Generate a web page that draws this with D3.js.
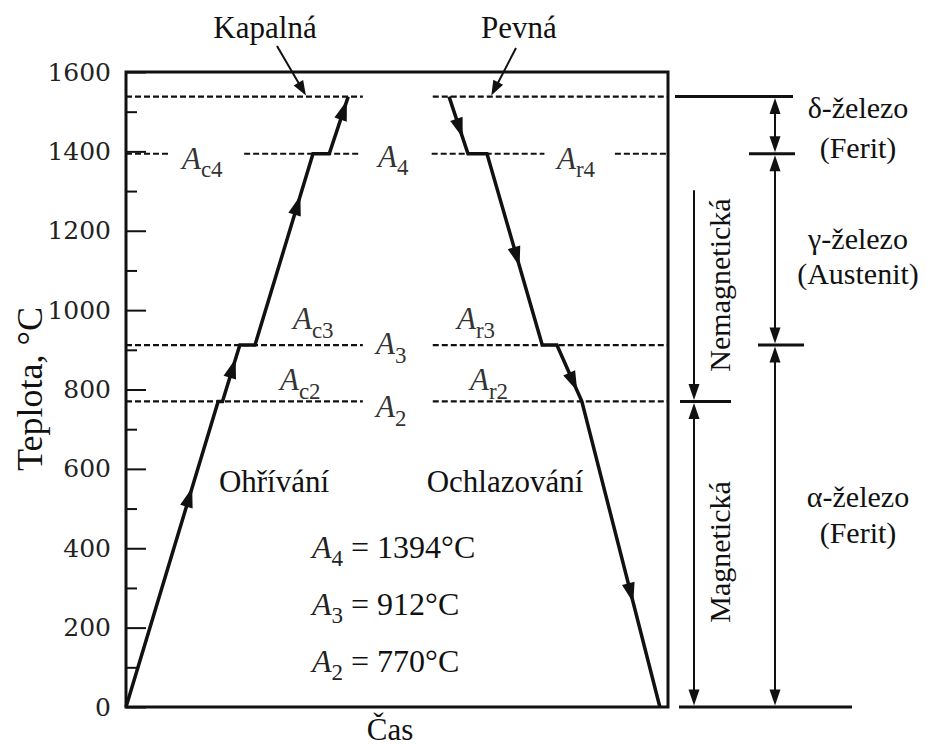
<!DOCTYPE html>
<html>
<head>
<meta charset="utf-8">
<script src="https://cdn.jsdelivr.net/npm/d3@7/dist/d3.min.js"></script>
<style>
  html, body { margin: 0; padding: 0; background: #fff; }
  svg { display: block; }
</style>
</head>
<body>
<svg id="chart" width="927" height="747"></svg>
<script>
// Temperature axis
const majorTicks = [0, 200, 400, 600, 800, 1000, 1200, 1400, 1600];
const minorTicks = [100, 300, 500, 700, 900, 1100, 1300, 1500];

// Critical temperatures of pure iron (°C)
const transitionNames = ["A2", "A3", "A4"];
const transitionTemps = [770, 912, 1394];
const meltingTemp = 1538;

// Heating curve: time (arbitrary units) and temperature
const heatingTime = [0, 17.0, 17.8, 21.0, 23.8, 34.5, 37.5, 41.0];
const heatingTemp = [0, 770, 770, 912, 912, 1394, 1394, 1538];
// Cooling curve
const coolingTime = [59.6, 63.1, 66.6, 76.8, 79.5, 84.1, 98.5];
const coolingTemp = [1538, 1394, 1394, 912, 912, 770, 0];

// Temperatures at which direction arrows sit on each curve
const heatingArrowTemps = [529, 854, 1265, 1504];
const coolingArrowTemps = [1458, 1134, 819, 287];

// Phase ranges (°C)
const phaseNames = ["δ-železo", "γ-železo", "α-železo"];
const phaseSubs = ["(Ferit)", "(Austenit)", "(Ferit)"];
const phaseLow = [1394, 912, 0];
const phaseHigh = [1538, 1394, 912];

// Magnetic state ranges (°C)
const magNames = ["Nemagnetická", "Magnetická"];
const magLow = [770, 0];
const magHigh = [1302, 770];

const SERIF = "'Liberation Serif', 'Times New Roman', serif";
const TICKFONT = "'DejaVu Serif', serif";

const svg = d3.select("#chart");
const x = d3.scaleLinear().domain([0, 100]).range([126, 668]);
const y = d3.scaleLinear().domain([0, 1600]).range([707, 72]);

function txt(px, py, size) {
  return svg.append("text").attr("x", px).attr("y", py)
    .style("font-family", SERIF).style("font-size", size + "px").attr("fill", "#111");
}

// ---- frame ----
svg.append("rect")
  .attr("x", x(0)).attr("y", y(1600))
  .attr("width", x(100) - x(0)).attr("height", y(0) - y(1600))
  .attr("fill", "none").attr("stroke", "#111").attr("stroke-width", 3);

// ---- temperature axis (ticks point into the plot) ----
const axisMajor = d3.axisLeft(y).tickValues(majorTicks).tickSize(-20)
  .tickSizeOuter(0).tickPadding(15).tickFormat(d3.format("d"));
const gMajor = svg.append("g").attr("transform", `translate(${x(0)},0)`).call(axisMajor);
gMajor.select(".domain").remove();
gMajor.selectAll(".tick line").attr("stroke", "#111").attr("stroke-width", 2);
gMajor.selectAll(".tick text").attr("fill", "#222")
  .style("font-family", TICKFONT).style("font-size", "25px");

const axisMinor = d3.axisLeft(y).tickValues(minorTicks).tickSize(-11)
  .tickSizeOuter(0).tickFormat("");
const gMinor = svg.append("g").attr("transform", `translate(${x(0)},0)`).call(axisMinor);
gMinor.select(".domain").remove();
gMinor.selectAll(".tick line").attr("stroke", "#111").attr("stroke-width", 2);

// axis titles
txt(0, 0, 36)
  .attr("transform", `translate(42,389) rotate(-90)`)
  .attr("text-anchor", "middle")
  .text("Teplota, °C");
txt(390, 740, 31).attr("text-anchor", "middle").text("Čas");

// ---- dashed transition lines ----
const dashStyle = sel => sel.attr("stroke", "#111").attr("stroke-width", 2.2)
  .attr("stroke-dasharray", "6,3").attr("fill", "none");

function dashed(t0, t1, temp) {
  svg.append("line")
    .attr("x1", x(t0)).attr("x2", x(t1))
    .attr("y1", y(temp)).attr("y2", y(temp))
    .call(dashStyle);
}
// melting line
dashed(0, 43.7, meltingTemp);
dashed(56.6, 100, meltingTemp);
// A2, A3: full runs on both sides
dashed(0, 43.7, transitionTemps[0]);
dashed(56.6, 100, transitionTemps[0]);
dashed(0, 43.7, transitionTemps[1]);
dashed(56.6, 100, transitionTemps[1]);
// A4: broken around its labels
dashed(0, 7.8, transitionTemps[2]);
dashed(21.8, 43.3, transitionTemps[2]);
dashed(56.4, 77.2, transitionTemps[2]);
dashed(90.2, 100, transitionTemps[2]);

// ---- heating / cooling curves ----
const line = d3.line().x(d => x(d[0])).y(d => y(d[1]));
const heating = heatingTime.map((t, i) => [t, heatingTemp[i]]);
const cooling = coolingTime.map((t, i) => [t, coolingTemp[i]]);

[heating, cooling].forEach(pts => {
  svg.append("path").attr("d", line(pts))
    .attr("fill", "none").attr("stroke", "#111")
    .attr("stroke-width", 3.5).attr("stroke-linejoin", "miter");
});

// arrowheads along the curves
function arrowOn(pts, temp) {
  for (let i = 0; i < pts.length - 1; i++) {
    const a = pts[i], b = pts[i + 1];
    const lo = Math.min(a[1], b[1]), hi = Math.max(a[1], b[1]);
    if (a[1] !== b[1] && temp >= lo && temp <= hi) {
      const f = (temp - a[1]) / (b[1] - a[1]);
      const t = a[0] + f * (b[0] - a[0]);
      const px = x(t), py = y(temp);
      const ang = Math.atan2(y(b[1]) - y(a[1]), x(b[0]) - x(a[0])) * 180 / Math.PI;
      svg.append("path")
        .attr("d", "M10,0 L-10,-6.5 L-10,6.5 Z")
        .attr("transform", `translate(${px},${py}) rotate(${ang})`)
        .attr("fill", "#111");
      return;
    }
  }
}
heatingArrowTemps.forEach(t => arrowOn(heating, t));
coolingArrowTemps.forEach(t => arrowOn(cooling, t));

// ---- A labels ----
function aLabel(px, py, sub, size) {
  const t = txt(px, py, size).attr("fill", "#333");
  t.append("tspan").style("font-style", "italic").text("A");
  t.append("tspan").attr("dy", size * 0.28).style("font-size", (size * 0.74) + "px").text(sub);
  return t;
}
const yA2 = y(transitionTemps[0]), yA3 = y(transitionTemps[1]), yA4 = y(transitionTemps[2]);
aLabel(182, yA4 + 15, "c4", 31);
aLabel(378, yA4 + 13, "4", 31);
aLabel(557, yA4 + 15, "r4", 31);
aLabel(293, yA3 - 16, "c3", 31);
aLabel(376, yA3 + 9, "3", 31);
aLabel(457, yA3 - 16, "r3", 31);
aLabel(280, yA2 - 11, "c2", 31);
aLabel(376, yA2 + 16, "2", 31);
aLabel(470, yA2 - 11, "r2", 31);

// ---- liquid / solid annotations ----
txt(265, 38, 31).attr("text-anchor", "middle").text("Kapalná");
txt(519, 38, 31).attr("text-anchor", "middle").text("Pevná");

function pointer(x1, y1, x2, y2) {
  const ang = Math.atan2(y2 - y1, x2 - x1);
  const L = 14;
  const ex = x2 - L * Math.cos(ang), ey = y2 - L * Math.sin(ang);
  svg.append("line").attr("x1", x1).attr("y1", y1).attr("x2", ex).attr("y2", ey)
    .attr("stroke", "#111").attr("stroke-width", 2);
  svg.append("path").attr("d", "M0,0 L-15,-5.5 L-15,5.5 Z")
    .attr("transform", `translate(${x2},${y2}) rotate(${ang * 180 / Math.PI})`)
    .attr("fill", "#111");
}
pointer(277, 46, x(33.2), y(meltingTemp) - 1);
pointer(516, 48, x(67.4), y(meltingTemp) - 1);

// ---- process labels and equilibrium values ----
txt(274, 492, 31).attr("text-anchor", "middle").text("Ohřívání");
txt(505, 492, 31).attr("text-anchor", "middle").text("Ochlazování");

const eqTexts = transitionNames.slice().reverse();
const eqTemps = transitionTemps.slice().reverse();
eqTexts.forEach((n, i) => {
  const t = txt(312, 558 + i * 57, 32);
  t.append("tspan").style("font-style", "italic").attr("fill", "#222").text("A");
  t.append("tspan").attr("dy", 8).style("font-size", "23px").attr("fill", "#222").text(n.slice(1));
  t.append("tspan").attr("dy", -8).text(" = " + eqTemps[i] + "°C");
});

// ---- phase ranges on the right ----
const hStyle = sel => sel.attr("stroke", "#111").attr("stroke-width", 3);
const vStyle = sel => sel.attr("stroke", "#111").attr("stroke-width", 2);

// boundary rules
[[675, 793, meltingTemp], [749, 795, transitionTemps[2]],
 [758, 804, transitionTemps[1]], [680, 731, transitionTemps[0]],
 [679, 852, 0]].forEach(([a, b, t]) => {
  svg.append("line").attr("x1", a).attr("x2", b).attr("y1", y(t)).attr("y2", y(t)).call(hStyle);
});

function head(px, py, dir) { // dir: 1 = pointing down, -1 = pointing up
  svg.append("path")
    .attr("d", `M${px},${py} L${px - 5.5},${py - dir * 16} L${px + 5.5},${py - dir * 16} Z`)
    .attr("fill", "#111");
}
function vArrow(px, yTop, yBot, topHead, botHead) {
  svg.append("line").attr("x1", px).attr("x2", px)
    .attr("y1", yTop + (topHead ? 10 : 0)).attr("y2", yBot - (botHead ? 10 : 0)).call(vStyle);
  if (topHead) head(px, yTop, -1);
  if (botHead) head(px, yBot, 1);
}

const phaseX = 775;
phaseNames.forEach((n, i) => {
  const yt = y(phaseHigh[i]) + 1.5, yb = y(phaseLow[i]) - 1.5;
  vArrow(phaseX, yt, yb, true, true);
});
const phaseLabelY = [[118, 158], [249, 284], [507, 543]];
phaseNames.forEach((n, i) => {
  txt(858, phaseLabelY[i][0], 30).attr("text-anchor", "middle").text(n);
  txt(858, phaseLabelY[i][1], 30).attr("text-anchor", "middle").text(phaseSubs[i]);
});

const magX = 694;
vArrow(magX, y(magHigh[0]), y(magLow[0]) - 1.5, false, true);
vArrow(magX, y(magHigh[1]) + 1.5, y(magLow[1]) - 1.5, true, true);
const magLabelY = [285, 552];
magNames.forEach((n, i) => {
  txt(0, 0, 30)
    .attr("transform", `translate(730,${magLabelY[i]}) rotate(-90)`)
    .attr("text-anchor", "middle").text(n);
});
</script>
</body>
</html>
